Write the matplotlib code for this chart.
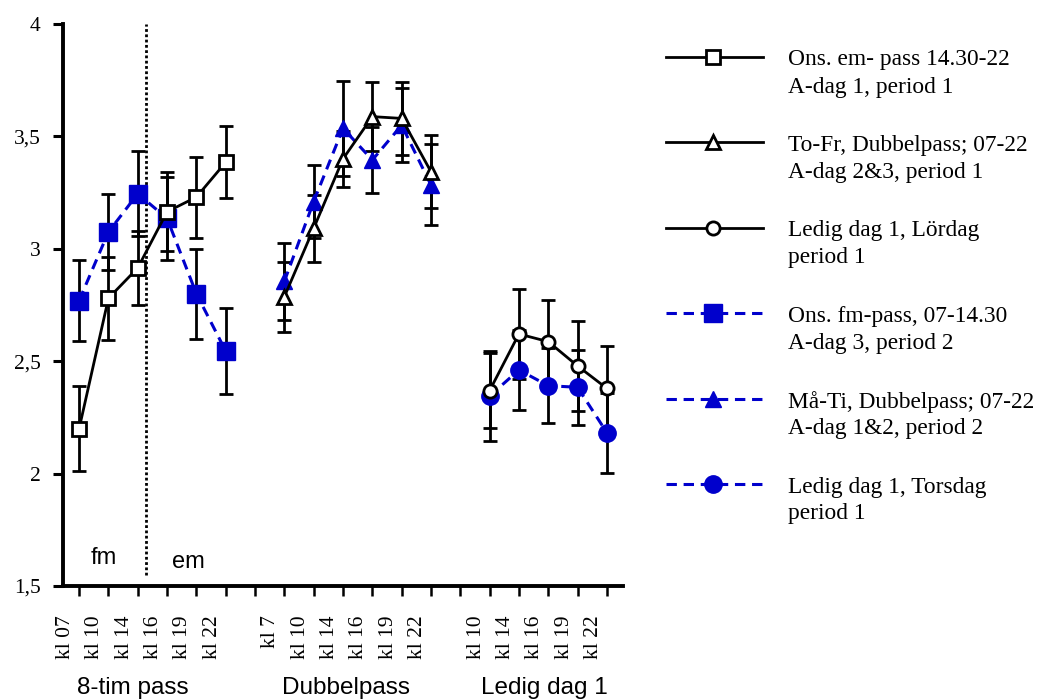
import matplotlib
matplotlib.use('Agg')
import matplotlib.pyplot as plt
from matplotlib.transforms import blended_transform_factory

# x positions of the three measurement blocks
x_8tim = [0, 1, 2, 3, 4, 5]
x_dubbel = [7, 8, 9, 10, 11, 12]
x_ledig = [14, 15, 16, 17, 18]

tick_labels_8tim = ['kl 07', 'kl 10', 'kl 14', 'kl 16', 'kl 19', 'kl 22']
tick_labels_dubbel = ['kl 7', 'kl 10', 'kl 14', 'kl 16', 'kl 19', 'kl 22']
tick_labels_ledig = ['kl 10', 'kl 14', 'kl 16', 'kl 19', 'kl 22']

group_names = ['8-tim pass', 'Dubbelpass', 'Ledig dag 1']
group_pos = [1.83, 9.1, 15.86]

# means and error bar half-widths
ons_em = [2.20, 2.78, 2.915, 3.165, 3.23, 3.385]
ons_em_err = [0.188, 0.185, 0.165, 0.175, 0.18, 0.16]
ons_fm = [2.77, 3.075, 3.245, 3.135, 2.80, 2.545]
ons_fm_err = [0.18, 0.17, 0.19, 0.185, 0.20, 0.19]

tofr = [2.787, 3.091, 3.40, 3.588, 3.58, 3.343]
tofr_err = [0.155, 0.148, 0.125, 0.155, 0.163, 0.163]
mati = [2.855, 3.21, 3.536, 3.395, 3.55, 3.284]
mati_err = [0.17, 0.163, 0.21, 0.148, 0.165, 0.18]

lordag = [2.369, 2.621, 2.587, 2.479, 2.379]
lordag_err = [0.166, 0.2, 0.185, 0.2, 0.19]
torsdag = [2.345, 2.461, 2.391, 2.384, 2.182]
torsdag_err = [0.2, 0.178, 0.167, 0.168, 0.178]

y_ticks = [1.5, 2, 2.5, 3, 3.5, 4]
y_tick_labels = ['1,5', '2', '2,5', '3', '3,5', '4']

BLUE = '#0000cc'
SERIF = 'Liberation Serif'
SANS = 'Liberation Sans'

black = dict(color='black', lw=2.0, ls='-', mfc='white', mec='black', mew=2.0)
blue = dict(color=BLUE, lw=2.2, ls=(0, (3.4, 2.2)), mfc=BLUE, mec=BLUE, mew=1.0)

series = [
    # blue ones first so the black series sit on top
    (x_8tim, ons_fm, ons_fm_err, dict(blue, marker='s', ms=12.5),
     ['Ons. fm-pass, 07-14.30', 'A-dag 3, period 2']),
    (x_dubbel, mati, mati_err, dict(blue, marker='^', ms=11.5),
     ['Må-Ti, Dubbelpass; 07-22', 'A-dag 1&2, period 2']),
    (x_ledig, torsdag, torsdag_err, dict(blue, marker='o', ms=12.5),
     ['Ledig dag 1, Torsdag', 'period 1']),
    (x_8tim, ons_em, ons_em_err, dict(black, marker='s', ms=9.5),
     ['Ons. em- pass 14.30-22', 'A-dag 1, period 1']),
    (x_dubbel, tofr, tofr_err, dict(black, marker='^', ms=9.5),
     ['To-Fr, Dubbelpass; 07-22', 'A-dag 2&3, period 1']),
    (x_ledig, lordag, lordag_err, dict(black, marker='o', ms=9.5),
     ['Ledig dag 1, Lördag', 'period 1']),
]

fig = plt.figure(figsize=(10.45, 7), dpi=100)
ax = fig.add_axes([63 / 1045, 1 - 586 / 700, (623 - 63) / 1045, 562 / 700])

for k, (xs, ys, err, style, _) in enumerate(series):
    ax.errorbar(xs, ys, yerr=err, fmt='none', ecolor='black', elinewidth=2,
                capsize=5, capthick=2, zorder=2)
    ax.plot(xs, ys, zorder=3 + k, clip_on=False, **style)

ax.set_xlim(-0.55, 18.55)
ax.set_ylim(1.5, 4)

for side in ['top', 'right']:
    ax.spines[side].set_visible(False)
for side in ['left', 'bottom']:
    ax.spines[side].set_linewidth(2.8)

ax.set_yticks(y_ticks, y_tick_labels, fontfamily=SERIF, fontsize=15.5)
ax.tick_params(axis='y', length=7, width=2.2, pad=9)

# tick marks at every slot, labels sit slightly left of them
ax.set_xticks(range(19), [''] * 19)
ax.tick_params(axis='x', which='major', length=7, width=1.8)
label_x = [p - 0.46 for p in x_8tim + x_dubbel + x_ledig]
ax.set_xticks(label_x, tick_labels_8tim + tick_labels_dubbel + tick_labels_ledig,
              minor=True, fontfamily=SERIF, fontsize=15.5)
ax.tick_params(axis='x', which='minor', length=0, pad=21, labelrotation=90)

trans = blended_transform_factory(ax.transData, ax.transAxes)
for name, gx in zip(group_names, group_pos):
    ax.text(gx, -0.1815, name, transform=trans, ha='center', va='center',
            fontfamily=SANS, fontsize=17.5)

# morning / afternoon split in the 8-hour shift
ax.vlines(2.28, 1.55, 4, colors='black', linestyles=(0, (1, 0.9)), lw=2)
ax.text(0.84, 1.625, 'fm', ha='center', va='center', fontfamily=SANS, fontsize=17)
ax.text(3.74, 1.607, 'em', ha='center', va='center', fontfamily=SANS, fontsize=17)

# legend drawn in pixel space on an overlay
lax = fig.add_axes([0, 0, 1, 1])
lax.set_xlim(0, 1045)
lax.set_ylim(700, 0)
lax.axis('off')
legend_order = [3, 4, 5, 0, 1, 2]
for row, k in enumerate(legend_order):
    style, lines = series[k][3], series[k][4]
    y = 57 + row * 85.4
    line_style = {key: v for key, v in style.items() if key not in ('marker', 'ms', 'mfc', 'mec', 'mew')}
    lax.plot([666, 763], [y, y], **line_style)
    lax.plot([713], [y], ls='none', **{key: v for key, v in style.items()
                                      if key not in ('ls', 'lw', 'color')})
    lax.text(788, y + 3, lines[0], ha='left', va='center', fontfamily=SERIF, fontsize=16.8)
    lax.text(788, y + 30, lines[1], ha='left', va='center', fontfamily=SERIF, fontsize=16.8)

fig.savefig('out.png', dpi=100)
